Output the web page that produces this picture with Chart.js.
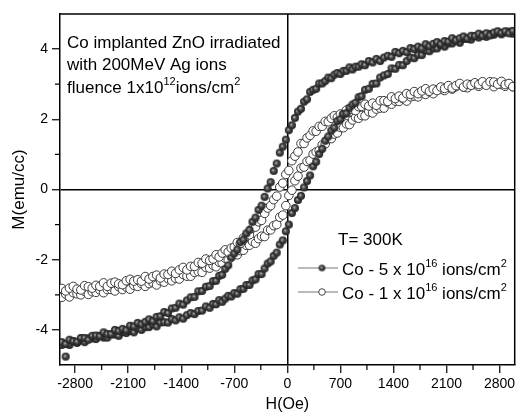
<!DOCTYPE html>
<html>
<head>
<meta charset="utf-8">
<script src="https://cdn.jsdelivr.net/npm/chart.js@4.4.1/dist/chart.umd.min.js"></script>
<style>
  html, body { margin: 0; padding: 0; background: #fff; }
</style>
</head>
<body>
<canvas id="loopChart" width="520" height="413"></canvas>
<script>
// field steps (Oe), shared by all four branches
const fieldH = [
  -2975, -2925, -2875, -2825, -2775, -2725, -2675, -2625, -2575, -2525,
  -2475, -2425, -2375, -2325, -2275, -2225, -2175, -2125, -2075, -2025,
  -1975, -1925, -1875, -1825, -1775, -1725, -1675, -1625, -1575, -1525,
  -1475, -1425, -1375, -1325, -1275, -1225, -1175, -1125, -1075, -1025,
  -980, -940, -900, -860, -820, -780, -740, -700, -660, -620,
  -580, -540, -500, -460, -420, -380, -340, -300, -260, -220,
  -180, -140, -100, -60, -20, 20, 60, 100, 140, 180,
  220, 260, 300, 340, 380, 420, 460, 500, 540, 580,
  620, 660, 700, 740, 780, 820, 860, 900, 940, 980,
  1025, 1075, 1125, 1175, 1225, 1275, 1325, 1375, 1425, 1475,
  1525, 1575, 1625, 1675, 1725, 1775, 1825, 1875, 1925, 1975,
  2025, 2075, 2125, 2175, 2225, 2275, 2325, 2375, 2425, 2475,
  2525, 2575, 2625, 2675, 2725, 2775, 2825, 2875, 2925, 2975
];

// Co 5e16 - branch coming down from +H
const co5Down = [
  -4.35, -4.40, -4.28, -4.32, -4.34, -4.23, -4.23, -4.28, -4.17, -4.16,
  -4.18, -4.07, -4.12, -4.12, -4.00, -4.03, -3.97, -4.01, -3.88, -3.90,
  -3.80, -3.84, -3.77, -3.70, -3.75, -3.63, -3.61, -3.49, -3.52, -3.39,
  -3.37, -3.25, -3.28, -3.16, -3.07, -3.06, -2.90, -2.89, -2.77, -2.75,
  -2.61, -2.60, -2.46, -2.43, -2.26, -2.16, -1.94, -1.82, -1.71, -1.50,
  -1.43, -1.25, -1.15, -0.92, -0.80, -0.58, -0.46, -0.21, 0.03, 0.21,
  0.53, 0.74, 1.05, 1.22, 1.42, 1.69, 1.83, 2.04, 2.22, 2.30,
  2.50, 2.57, 2.78, 2.84, 2.87, 3.02, 3.02, 3.09, 3.19, 3.17,
  3.27, 3.32, 3.29, 3.38, 3.38, 3.48, 3.42, 3.50, 3.50, 3.57,
  3.54, 3.66, 3.62, 3.72, 3.66, 3.76, 3.81, 3.78, 3.92, 3.88,
  3.95, 3.91, 4.03, 4.00, 4.07, 4.02, 4.14, 4.08, 4.15, 4.20,
  4.14, 4.23, 4.21, 4.31, 4.25, 4.31, 4.36, 4.30, 4.38, 4.37,
  4.44, 4.38, 4.45, 4.39, 4.47, 4.51, 4.46, 4.51, 4.45, 4.52
];

// Co 5e16 - branch going up from -H
const co5Up = [
  -4.43, -4.76, -4.43, -4.32, -4.37, -4.30, -4.35, -4.24, -4.24, -4.26,
  -4.17, -4.22, -4.22, -4.13, -4.13, -4.17, -4.06, -4.09, -4.03, -4.07,
  -3.95, -4.00, -3.92, -3.92, -3.84, -3.90, -3.79, -3.78, -3.79, -3.69,
  -3.73, -3.64, -3.68, -3.58, -3.52, -3.55, -3.46, -3.45, -3.33, -3.37,
  -3.26, -3.27, -3.15, -3.20, -3.11, -3.03, -3.05, -2.95, -2.97, -2.84,
  -2.83, -2.72, -2.72, -2.59, -2.56, -2.41, -2.41, -2.25, -2.11, -2.05,
  -1.89, -1.80, -1.57, -1.45, -1.19, -1.00, -0.67, -0.53, -0.30, -0.18,
  0.06, 0.24, 0.40, 0.66, 0.79, 1.01, 1.16, 1.39, 1.51, 1.68,
  1.76, 1.95, 2.00, 2.15, 2.17, 2.33, 2.42, 2.47, 2.63, 2.66,
  2.84, 2.87, 3.01, 3.02, 3.19, 3.25, 3.29, 3.45, 3.44, 3.55,
  3.54, 3.66, 3.76, 3.74, 3.84, 3.83, 3.96, 3.94, 4.02, 4.02,
  4.12, 4.07, 4.16, 4.16, 4.25, 4.18, 4.29, 4.29, 4.27, 4.37,
  4.33, 4.40, 4.35, 4.43, 4.41, 4.48, 4.42, 4.48, 4.50, 4.44
];

// Co 1e16 - branch coming down from +H
const co1Down = [
  -2.82, -2.89, -2.81, -2.76, -2.84, -2.86, -2.74, -2.77, -2.81, -2.73,
  -2.76, -2.66, -2.76, -2.67, -2.64, -2.69, -2.71, -2.60, -2.56, -2.61,
  -2.57, -2.61, -2.48, -2.55, -2.48, -2.44, -2.52, -2.41, -2.42, -2.33,
  -2.39, -2.29, -2.22, -2.29, -2.19, -2.19, -2.08, -2.10, -1.98, -2.02,
  -1.98, -1.86, -1.92, -1.81, -1.72, -1.78, -1.67, -1.64, -1.51, -1.54,
  -1.38, -1.33, -1.29, -1.10, -1.07, -0.92, -0.88, -0.68, -0.53, -0.46,
  -0.29, -0.19, 0.07, 0.18, 0.43, 0.54, 0.82, 0.95, 1.07, 1.31,
  1.31, 1.47, 1.54, 1.67, 1.66, 1.80, 1.80, 1.94, 1.93, 2.03,
  2.10, 2.06, 2.15, 2.14, 2.26, 2.21, 2.28, 2.25, 2.36, 2.37,
  2.43, 2.38, 2.46, 2.40, 2.53, 2.53, 2.51, 2.64, 2.59, 2.66,
  2.61, 2.73, 2.71, 2.79, 2.73, 2.81, 2.87, 2.80, 2.86, 2.82,
  2.92, 2.88, 2.96, 2.89, 2.96, 3.02, 2.92, 3.00, 2.97, 3.04,
  2.99, 3.07, 2.97, 3.07, 3.06, 3.00, 3.08, 2.99, 3.02, 2.93
];

// Co 1e16 - branch going up from -H
const co1Up = [
  -3.07, -2.98, -3.06, -2.94, -2.97, -3.00, -2.90, -2.99, -2.91, -2.93,
  -2.86, -2.94, -2.85, -2.85, -2.89, -2.77, -2.85, -2.78, -2.84, -2.73,
  -2.76, -2.68, -2.76, -2.68, -2.65, -2.72, -2.60, -2.64, -2.54, -2.60,
  -2.53, -2.55, -2.42, -2.47, -2.47, -2.36, -2.34, -2.36, -2.22, -2.24,
  -2.16, -2.20, -2.07, -2.09, -1.96, -2.01, -1.91, -1.83, -1.86, -1.74,
  -1.73, -1.59, -1.59, -1.48, -1.53, -1.40, -1.33, -1.34, -1.16, -1.15,
  -1.03, -1.00, -0.79, -0.73, -0.46, -0.17, -0.02, 0.25, 0.38, 0.61,
  0.64, 0.80, 0.83, 1.01, 1.07, 1.11, 1.27, 1.30, 1.45, 1.45,
  1.58, 1.61, 1.77, 1.76, 1.87, 1.85, 1.98, 2.06, 2.03, 2.11,
  2.10, 2.22, 2.18, 2.29, 2.32, 2.32, 2.48, 2.43, 2.52, 2.51,
  2.59, 2.52, 2.64, 2.66, 2.64, 2.75, 2.71, 2.78, 2.73, 2.84,
  2.85, 2.82, 2.93, 2.86, 2.93, 2.99, 2.92, 2.90, 2.99, 2.99,
  2.94, 3.04, 2.99, 3.03, 2.93, 3.03, 2.99, 2.94, 3.01, 2.93
];

const hTicks = [-2800, -2100, -1400, -700, 0, 700, 1400, 2100, 2800];
const hMinor = [-2450, -1750, -1050, -350, 350, 1050, 1750, 2450];
const mTicks = [-4, -2, 0, 2, 4];
const mMinor = [-3, -1, 1, 3];

const FONT = "'Liberation Sans', Arial, sans-serif";

function pairs(ys) {
  return fieldH.map((h, i) => ({ x: h, y: ys[i] }));
}

// shaded ball used for the filled markers
function makeBall(r) {
  const s = Math.ceil(r * 2 + 2);
  const c = document.createElement("canvas");
  c.width = s; c.height = s;
  const g = c.getContext("2d");
  const grad = g.createRadialGradient(s / 2 - r * 0.2, s / 2 - r * 0.2, 0.3, s / 2, s / 2, r);
  grad.addColorStop(0, "#b0b0b0");
  grad.addColorStop(0.4, "#4a4a4a");
  grad.addColorStop(1, "#1c1c1c");
  g.fillStyle = grad;
  g.beginPath();
  g.arc(s / 2, s / 2, r, 0, Math.PI * 2);
  g.fill();
  return c;
}
const ball = makeBall(4);
const smallBall = makeBall(3.3);

function richText(ctx, parts, x, y, size) {
  let cx = x;
  parts.forEach(p => {
    const sz = p.sup ? Math.round(size * 0.62) : size;
    ctx.font = sz + "px " + FONT;
    ctx.fillText(p.t, cx, p.sup ? y - size * 0.5 : y);
    cx += ctx.measureText(p.t).width;
  });
}

const extras = {
  id: "extras",
  afterDraw(chart) {
    const { ctx, chartArea: a, scales } = chart;
    ctx.save();
    ctx.strokeStyle = "#000";
    // top and right edges of the frame
    ctx.lineWidth = 1.5;
    ctx.beginPath();
    ctx.moveTo(a.left, a.top);
    ctx.lineTo(a.right, a.top);
    ctx.lineTo(a.right, a.bottom);
    ctx.stroke();
    // minor ticks
    ctx.lineWidth = 1.2;
    ctx.beginPath();
    hMinor.forEach(v => {
      const px = scales.x.getPixelForValue(v);
      ctx.moveTo(px, a.bottom);
      ctx.lineTo(px, a.bottom + 5);
    });
    mMinor.forEach(v => {
      const py = scales.y.getPixelForValue(v);
      ctx.moveTo(a.left, py);
      ctx.lineTo(a.left - 5, py);
    });
    ctx.stroke();

    ctx.fillStyle = "#000";
    ctx.textBaseline = "alphabetic";
    ctx.textAlign = "left";
    richText(ctx, [{ t: "Co implanted ZnO irradiated" }], 67, 48, 17);
    richText(ctx, [{ t: "with 200MeV Ag ions" }], 67, 70, 17);
    richText(ctx, [{ t: "fluence 1x10" }, { t: "12", sup: true }, { t: "ions/cm" }, { t: "2", sup: true }], 67, 93, 17);

    richText(ctx, [{ t: "T= 300K" }], 338, 245, 17);
    const rows = [
      { y: 268, filled: true, parts: [{ t: "Co - 5 x 10" }, { t: "16", sup: true }, { t: " ions/cm" }, { t: "2", sup: true }] },
      { y: 292, filled: false, parts: [{ t: "Co - 1 x 10" }, { t: "16", sup: true }, { t: " ions/cm" }, { t: "2", sup: true }] }
    ];
    rows.forEach(r => {
      ctx.strokeStyle = "#777";
      ctx.lineWidth = 1;
      ctx.beginPath();
      ctx.moveTo(298, r.y);
      ctx.lineTo(338, r.y);
      ctx.stroke();
      if (r.filled) {
        ctx.drawImage(smallBall, 322 - smallBall.width / 2, r.y - smallBall.height / 2);
      } else {
        ctx.fillStyle = "#fff";
        ctx.strokeStyle = "#444";
        ctx.beginPath();
        ctx.arc(322, r.y, 3.3, 0, Math.PI * 2);
        ctx.fill();
        ctx.stroke();
      }
      ctx.fillStyle = "#000";
      richText(ctx, r.parts, 342, r.y + 7, 17);
    });
    ctx.restore();
  }
};

const zeroLine = c => (c.tick && c.tick.value === 0 ? "#000" : "rgba(0,0,0,0)");
const openStyle = { pointRadius: 4.3, pointBackgroundColor: "#fff", pointBorderColor: "#3a3a3a", pointBorderWidth: 1, showLine: false };

new Chart(document.getElementById("loopChart"), {
  type: "scatter",
  data: {
    datasets: [
      { label: "Co 5 down", data: pairs(co5Down), pointStyle: ball, showLine: false },
      { label: "Co 5 up", data: pairs(co5Up), pointStyle: ball, showLine: false },
      Object.assign({ label: "Co 1 down", data: pairs(co1Down) }, openStyle),
      Object.assign({ label: "Co 1 up", data: pairs(co1Up) }, openStyle)
    ]
  },
  options: {
    responsive: false,
    animation: false,
    layout: { padding: { top: 14, right: 1, left: 0, bottom: 0 } },
    plugins: { legend: { display: false }, tooltip: { enabled: false } },
    scales: {
      x: {
        type: "linear",
        min: -3000,
        max: 3000,
        afterBuildTicks: axis => { axis.ticks = hTicks.map(v => ({ value: v })); },
        afterFit: axis => { axis.height = 48; },
        grid: { color: zeroLine, lineWidth: 1.5, tickColor: "#000", tickLength: 8, tickWidth: 1.2 },
        border: { color: "#000", width: 1.5 },
        ticks: { color: "#000", font: { family: FONT, size: 14 }, padding: 3, maxRotation: 0, autoSkip: false, callback: v => String(v) },
        title: { display: true, text: "H(Oe)", color: "#000", font: { family: FONT, size: 16, lineHeight: 1 }, padding: { top: 0, bottom: 0 } }
      },
      y: {
        type: "linear",
        min: -5,
        max: 5,
        afterBuildTicks: axis => { axis.ticks = mTicks.map(v => ({ value: v })); },
        afterFit: axis => { axis.width = 60; },
        grid: { color: zeroLine, lineWidth: 1.5, tickColor: "#000", tickLength: 8, tickWidth: 1.2 },
        border: { color: "#000", width: 1.5 },
        ticks: { color: "#000", font: { family: FONT, size: 14 }, padding: 4, callback: v => String(v) },
        title: { display: true, text: "M(emu/cc)", color: "#000", font: { family: FONT, size: 17 }, padding: { top: 9, bottom: 0 } }
      }
    }
  },
  plugins: [extras]
});
</script>
</body>
</html>
